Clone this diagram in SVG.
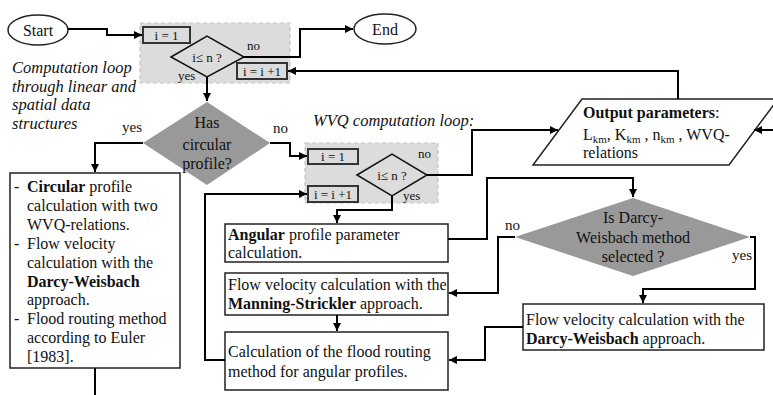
<svg xmlns="http://www.w3.org/2000/svg" width="773" height="395" viewBox="0 0 773 395">
<defs>
<marker id="arr" viewBox="0 0 10 10" refX="10" refY="5" markerWidth="9" markerHeight="8" markerUnits="userSpaceOnUse" orient="auto">
<path d="M0,0 L10,5 L0,10 z" fill="#000"/>
</marker>
<style>
text{font-family:"Liberation Serif","Times New Roman",serif;fill:#111}
.t{font-size:16px}
.s{font-size:13px}
.l{font-size:15px}
.it{font-size:16.5px;font-style:italic}
.b{font-weight:bold}
.sub{font-size:11px}
.box{fill:#fff;stroke:#222;stroke-width:1.5}
.sbox{fill:#dcdcdc;stroke:#333;stroke-width:2}
.reg{fill:#dcdcdc;stroke:#c4c4c4;stroke-width:1.2;stroke-dasharray:4,3}
.dia{fill:none;stroke:#111;stroke-width:1.5}
.gdia{fill:#999;stroke:none}
.conn path{fill:none;stroke:#000;stroke-width:2;marker-end:url(#arr)}
.conn path.nm{marker-end:none}
</style>
</defs>
<rect width="773" height="395" fill="#fff"/>

<g id="loop1-region"><rect class="reg" x="140" y="23" width="150" height="60"/></g>
<g id="loop2-region"><rect class="reg" x="305" y="143" width="133" height="60"/></g>

<g id="start"><ellipse cx="38" cy="30" rx="30" ry="15" class="box" stroke="#000"/><text class="t" x="38" y="36" text-anchor="middle">Start</text></g>
<g id="end"><ellipse cx="385" cy="29" rx="31" ry="15" class="box" stroke="#000"/><text class="t" x="385" y="35" text-anchor="middle">End</text></g>

<g id="init1"><rect class="sbox" x="143" y="27" width="47" height="16"/><text class="s" x="166.5" y="40" text-anchor="middle">i = 1</text></g>
<g id="cond1"><polygon class="dia" points="171,57 207,36 244,57 207,77"/><text class="s" x="207" y="62" text-anchor="middle">i≤ n ?</text></g>
<g id="inc1"><rect class="sbox" x="237" y="63" width="50" height="16"/><text class="s" x="262" y="76" text-anchor="middle">i = i +1</text></g>

<g id="loop1-label"><text class="it" x="12" y="73">Computation loop</text><text class="it" x="12" y="92">through linear and</text><text class="it" x="12" y="110">spatial data</text><text class="it" x="12" y="129">structures</text></g>

<g id="has-circular"><polygon class="gdia" points="143,143 207,102 270,143 207,185"/><text class="t" x="207" y="128" text-anchor="middle">Has</text><text class="t" x="207" y="150" text-anchor="middle">circular</text><text class="t" x="207" y="169" text-anchor="middle">profile?</text></g>

<g id="circular-box"><rect class="box" x="10" y="173" width="170" height="195"/>
<text class="t" x="14" y="192">-</text><text class="t" x="27" y="192"><tspan class="b">Circular</tspan> profile</text>
<text class="t" x="27" y="211">calculation with two</text>
<text class="t" x="27" y="230">WVQ-relations.</text>
<text class="t" x="14" y="249">-</text><text class="t" x="27" y="249">Flow velocity</text>
<text class="t" x="27" y="268">calculation with the</text>
<text class="t b" x="27" y="287">Darcy-Weisbach</text>
<text class="t" x="27" y="305">approach.</text>
<text class="t" x="14" y="324">-</text><text class="t" x="27" y="324">Flood routing method</text>
<text class="t" x="27" y="343">according to Euler</text>
<text class="t" x="27" y="362">[1983].</text>
</g>

<g id="loop2-label"><text class="it" x="313" y="126">WVQ computation loop:</text></g>
<g id="init2"><rect class="sbox" x="308" y="149" width="50" height="15"/><text class="s" x="333" y="161" text-anchor="middle">i = 1</text></g>
<g id="cond2"><polygon class="dia" points="357,175 392,154 427,175 392,196"/><text class="s" x="392" y="180" text-anchor="middle">i≤ n ?</text></g>
<g id="inc2"><rect class="sbox" x="308" y="186" width="50" height="16"/><text class="s" x="333" y="199" text-anchor="middle">i = i +1</text></g>

<g id="angular"><rect class="box" x="225" y="224" width="223" height="38"/><text class="t" x="228" y="240"><tspan class="b">Angular</tspan> profile parameter</text><text class="t" x="228" y="258">calculation.</text></g>
<g id="manning"><rect class="box" x="225" y="273" width="223" height="42"/><text class="t" x="228" y="290">Flow velocity calculation with the</text><text class="t" x="228" y="309"><tspan class="b">Manning-Strickler</tspan> approach.</text></g>
<g id="flood-angular"><rect class="box" x="225" y="332" width="223" height="58"/><text class="t" x="228" y="357">Calculation of the flood routing</text><text class="t" x="228" y="377">method for angular profiles.</text></g>

<g id="output"><polygon class="box" stroke="#000" points="582,99 778,99 729,165 533,165"/>
<text class="t b" x="583" y="118">Output parameters<tspan font-weight="normal">:</tspan></text>
<text class="t" x="583" y="140">L<tspan class="sub" dy="3">km</tspan><tspan dy="-3">, K</tspan><tspan class="sub" dy="3">km</tspan><tspan dy="-3"> , n</tspan><tspan class="sub" dy="3">km</tspan><tspan dy="-3"> , WVQ-</tspan></text>
<text class="t" x="583" y="158">relations</text></g>

<g id="darcy-q"><polygon class="gdia" points="515,237 633,198 750,237 633,276"/><text class="t" x="633" y="223" text-anchor="middle">Is Darcy-</text><text class="t" x="633" y="243" text-anchor="middle">Weisbach method</text><text class="t" x="633" y="262" text-anchor="middle">selected ?</text></g>
<g id="darcy-box"><rect class="box" x="523" y="304" width="241" height="46"/><text class="t" x="526" y="325">Flow velocity calculation with the</text><text class="t" x="526" y="344"><tspan class="b">Darcy-Weisbach</tspan> approach.</text></g>

<g id="connectors" class="conn">
<path d="M68,29 H107 V35 H142"/>
<path d="M244,57 H300 V29 H353"/>
<path d="M678,99 V71 H288"/>
<path d="M207,77 V101"/>
<path d="M143,143 H95 V172"/>
<path d="M270,143 H290 V156 H307"/>
<path d="M427,175 H472 V130 H558"/>
<path d="M773,130 H754"/>
<path d="M392,196 V210 H337 V223"/>
<path d="M448,239 H487 V178 H633 V197"/>
<path d="M515,237 H498 V293 H449"/>
<path d="M750,237 H755 V289 H643 V303"/>
<path d="M523,327 H485 V360 H449"/>
<path d="M337,315 V331"/>
<path d="M225,360 H205 V194 H307"/>
<path class="nm" d="M95,368 V395"/>
</g>

<g id="labels">
<text class="s" x="247" y="50">no</text>
<text class="s" x="178" y="80">yes</text>
<text class="l" x="122" y="132">yes</text>
<text class="l" x="273" y="133">no</text>
<text class="s" x="418" y="158">no</text>
<text class="s" x="403" y="200">yes</text>
<text class="l" x="505" y="230">no</text>
<text class="l" x="732" y="260">yes</text>
</g>
</svg>
